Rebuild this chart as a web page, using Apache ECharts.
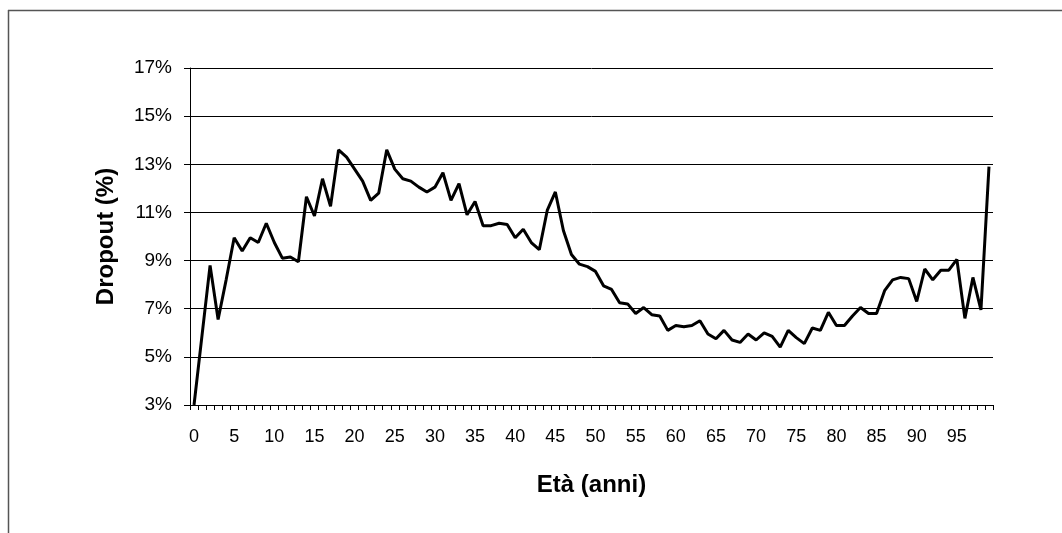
<!DOCTYPE html>
<html>
<head>
<meta charset="utf-8">
<script src="https://cdn.jsdelivr.net/npm/echarts@6/dist/echarts.min.js"></script>
<style>
html,body{margin:0;padding:0;background:#fff;}
#chart{width:1062px;height:533px;}
</style>
</head>
<body>
<div id="chart"></div>
<script>
// Ages 0..99
const ages = Array.from({length: 100}, (_, i) => String(i));
// Dropout rate (%) by age
const dropout = [
  3.0, 5.9, 8.8, 6.55, 8.2, 9.95, 9.4, 9.95, 9.75, 10.55,
  9.75, 9.1, 9.15, 8.95, 11.65, 10.85, 12.4, 11.25, 13.6, 13.3,
  12.8, 12.3, 11.5, 11.8, 13.6, 12.8, 12.4, 12.3, 12.05, 11.85,
  12.05, 12.65, 11.5, 12.2, 10.9, 11.45, 10.45, 10.45, 10.55, 10.5,
  9.95, 10.3, 9.75, 9.45, 11.1, 11.85, 10.25, 9.25, 8.85, 8.75,
  8.55, 7.95, 7.8, 7.25, 7.2, 6.8, 7.05, 6.75, 6.7, 6.1,
  6.3, 6.25, 6.3, 6.5, 5.95, 5.75, 6.1, 5.7, 5.6, 5.95,
  5.7, 6.0, 5.85, 5.4, 6.1, 5.8, 5.55, 6.2, 6.1, 6.85,
  6.3, 6.3, 6.7, 7.05, 6.8, 6.8, 7.75, 8.2, 8.3, 8.25,
  7.3, 8.65, 8.2, 8.6, 8.6, 9.05, 6.6, 8.3, 6.95, 12.9
];
const yMin = 3, yMax = 17, yStep = 2;
const xTitle = 'Età (anni)';
const yTitle = 'Dropout (%)';

const chart = echarts.init(document.getElementById('chart'), null, {renderer: 'canvas'});
const font = 'Liberation Sans, Arial, sans-serif';
chart.setOption({
  animation: false,
  backgroundColor: '#fff',
  grid: {left: 190, right: 69, top: 68, bottom: 128, containLabel: false},
  graphic: [
    {type: 'line', shape: {x1: 8, y1: 10.5, x2: 1062, y2: 10.5}, style: {stroke: '#555', lineWidth: 1.5}},
    {type: 'line', shape: {x1: 8.5, y1: 10, x2: 8.5, y2: 533}, style: {stroke: '#555', lineWidth: 1.5}}
  ],
  xAxis: {
    type: 'category',
    data: ages,
    boundaryGap: true,
    name: xTitle,
    nameLocation: 'middle',
    nameGap: 68,
    nameTextStyle: {fontFamily: font, fontSize: 24, fontWeight: 'bold', color: '#000'},
    axisLine: {show: true, lineStyle: {color: '#000', width: 1}},
    axisTick: {show: true, interval: 0, length: 5, inside: false, lineStyle: {color: '#000'}},
    axisLabel: {interval: 4, margin: 23, fontFamily: font, fontSize: 18, color: '#000'},
    splitLine: {show: false}
  },
  yAxis: {
    type: 'value',
    min: yMin, max: yMax, interval: yStep,
    name: yTitle,
    nameLocation: 'middle',
    nameGap: 72,
    nameRotate: 90,
    nameTextStyle: {fontFamily: font, fontSize: 24, fontWeight: 'bold', color: '#000'},
    axisLine: {show: true, lineStyle: {color: '#000', width: 1}},
    axisTick: {show: true, length: 6, lineStyle: {color: '#000'}},
    axisLabel: {formatter: '{value}%', margin: 18, fontFamily: font, fontSize: 19, color: '#000'},
    splitLine: {show: true, lineStyle: {color: '#000', width: 1}}
  },
  series: [{
    type: 'line',
    data: dropout,
    showSymbol: false,
    symbol: 'none',
    lineStyle: {color: '#000', width: 3},
    itemStyle: {color: '#000'}
  }]
});
</script>
</body>
</html>
